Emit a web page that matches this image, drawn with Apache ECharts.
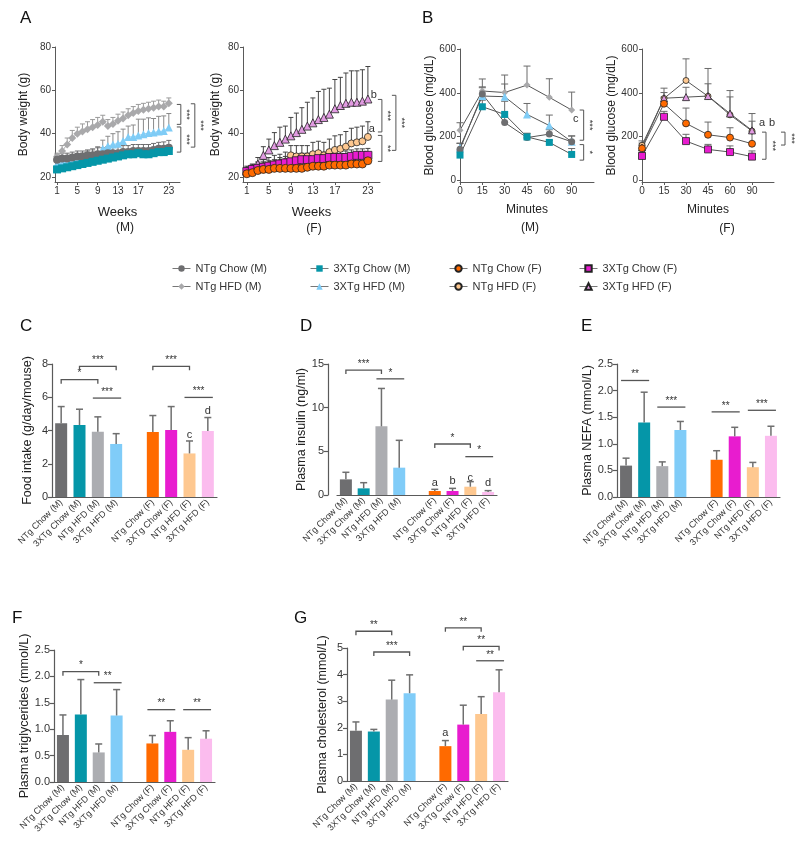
<!DOCTYPE html>
<html><head><meta charset="utf-8">
<script src="https://cdn.jsdelivr.net/npm/echarts@6/dist/echarts.min.js"></script>
<style>html,body{margin:0;padding:0;background:#fff}#c{width:800px;height:842px}</style>
</head><body><div id="c"></div>
<script>
// ---------- Panel A: body weight ----------
const weeks = [1,2,3,4,5,6,7,8,9,10,11,12,13,14,15,16,17,18,19,20,21,22,23];
const weekTicks = [1,5,9,13,17,23];
const bwNTgChowM   = [28,28.5,28.5,29,29.5,29.5,30,30,30.5,30.5,31,31,31,31.5,31.5,32,32,32,32,32.5,33,33,33.5];
const bwNTgChowMSd = [2.5,2.5,2.5,2.5,2.5,2.5,2.5,3,3,3,3,3,3,3,3,3,3,3,3,3,3,3.2,3.4];
const bw3XTgChowM   = [23.5,24,24.5,25,25.5,26,26.5,27,27.5,28,28.5,29,29.5,30,30.5,30.5,31,30.5,30.5,31,31.5,31.5,32];
const bw3XTgChowMSd = [1.4,1.5,1.5,1.6,1.5,1.6,1.6,1.7,1.6,1.7,1.7,1.6,1.7,1.8,1.7,1.8,1.7,1.8,1.8,1.7,1.8,1.8,1.9];
const bwNTgHfdM   = [29.5,32,35,38,40,41,42,43,44,45.5,43.5,44.5,46,47,48.5,49.5,50.5,51,51.5,52,52.5,52.5,54];
const bwNTgHfdMSd = [1.5,2.5,3,3.5,3,3.5,3.5,3.5,3.5,3,3,3,3,3,3,3,3,3,3,3,3,2.5,2.5];
const bw3XTgHfdM   = [26,26.5,27,27.5,28,28.5,29,29.5,30.5,33,34.3,35,35.4,36.6,38.5,38.5,39.2,39.7,40.3,40.5,41,41.2,42.8];
const bw3XTgHfdMSd = [2,2,2,2,2.5,2.5,3,3,3.5,4,4.5,5,5.5,5.5,5,5.5,7.5,7,7,6.5,7,7,6.5];
const bwNTgChowF   = [21.5,22,23,23.5,23.5,24,24,24,24,24,24,24.5,25,25,25,25.5,25.5,25.5,25.5,26,26,26,27.5];
const bwNTgChowFSd = [1.2,1.2,1.3,1.3,1.3,1.4,1.4,1.4,1.4,1.5,1.5,1.5,1.5,1.5,1.6,1.6,1.6,1.6,1.6,1.7,1.7,1.7,1.8];
const bw3XTgChowF   = [22.5,23.5,24,24.5,25,25.5,26,26.5,27,27.5,28,28,28,28.5,28.5,29,29,29,29,29.5,30,30,30];
const bw3XTgChowFSd = [2,2,2.5,2.5,2.5,2.5,3,3,3,3,3,3,3,3,3,3,3,3,3,3,3,3,3.2];
const bwNTgHfdF   = [22,23,24,25,25.5,26,26.5,27,30,29.5,29.5,29.5,30.5,31,30,31.5,32.5,33,34,35.5,36,36.5,38.5];
const bwNTgHfdFSd = [2,2.5,3,3,3.5,4,4,4.5,4.5,5,5,5,5.5,5.5,6,6,6.5,6.5,7,7,7,7,7];
const bw3XTgHfdF   = [23,24,26,30,32.5,34.5,36,37.5,39,40.5,42,43.5,45,46.5,47.5,49,51.5,53,54,54.5,54.5,55,56];
const bw3XTgHfdFSd = [2,2,3,4,5,6,7,6,8.5,9,10,11,11.5,13,13,12,13.5,13,14,14.5,14.5,14.5,15];
const bwTicks = [20,40,60,80];
// significance (y1, y2, label, level)
const sigBwM = [[53.5,44.3,'***',0],[43.1,31.5,'***',0],[53.8,33.8,'***',1]];
const sigBwF = [[55.8,40.8,'***',0],[39.2,27.2,'**',0],[57.7,32.3,'***',1]];
const letBwF = [[58,'b'],[42.3,'a']];

// ---------- Panel B: glucose tolerance ----------
const minutes = ['0','15','30','45','60','90'];
const gluTicks = [0,200,400,600];
const gluNTgChowM   = [142,394,264,195,211,176];
const gluNTgChowMSd = [26,33,25,20,20,26];
const glu3XTgChowM   = [115,336,301,198,173,118];
const glu3XTgChowMSd = [15,30,60,15,10,27];
const gluNTgHfdM   = [229,408,401,435,379,321];
const gluNTgHfdMSd = [34,55,80,87,85,82];
const glu3XTgHfdM   = [150,385,382,301,250,176];
const glu3XTgHfdMSd = [20,38,58,50,48,27];
const gluNTgChowF   = [146,350,260,208,195,167];
const gluNTgChowFSd = [15,30,70,58,45,53];
const glu3XTgChowF   = [111,290,179,141,129,108];
const glu3XTgChowFSd = [15,25,31,23,28,26];
const gluNTgHfdF   = [160,374,456,384,299,225];
const gluNTgHfdFSd = [20,47,99,127,111,80];
const glu3XTgHfdF   = [150,375,380,385,305,228];
const glu3XTgHfdFSd = [20,26,45,56,76,42];
const sigGluM = [[321,183,'***',0],[163,92,'*',0]];
const letGluM = [[282,'c']];
const sigGluF = [[220,96,'***',0],[220,161,'***',1]];
const letGluF = [[260,'a'],[260,'b']];

// ---------- Bar panels C-G ----------
const groups = ['NTg Chow (M)','3XTg Chow (M)','NTg HFD (M)','3XTg HFD (M)','','NTg Chow (F)','3XTg Chow (F)','NTg HFD (F)','3XTg HFD (F)'];
const foodMean = [4.43,4.33,3.93,3.19,null,3.91,4.03,2.62,3.97];
const foodSd   = [1.01,0.95,0.89,0.62,null,0.99,1.41,0.75,0.81];
const insMean = [1.79,0.76,7.86,3.13,null,0.46,0.46,0.95,0.34];
const insSd   = [0.81,0.65,4.34,3.13,null,0.19,0.30,0.58,0.16];
const nefaMean = [0.59,1.40,0.58,1.26,null,0.70,1.14,0.56,1.15];
const nefaSd   = [0.14,0.57,0.08,0.16,null,0.17,0.17,0.09,0.18];
const tgMean = [0.89,1.28,0.56,1.26,null,0.73,0.95,0.61,0.82];
const tgSd   = [0.38,0.66,0.16,0.49,null,0.15,0.21,0.23,0.15];
const cholMean = [1.89,1.86,3.06,3.30,null,1.31,2.12,2.52,3.34];
const cholSd   = [0.33,0.08,0.73,0.69,null,0.21,0.73,0.65,0.84];
// significance: x1, x2, y, label, bracket(1)/line(0)
const sigFood = [[0,2,7.06,'*',1],[1,3,7.86,'***',1],[2,3,5.95,'***',0],[5,7,7.86,'***',1],[7,8,5.99,'***',0]];
const letFood = [[7,3.73,'c'],[8,5.18,'d']];
const sigIns = [[0,2,14.3,'***',1],[2,3,13.3,'*',0],[5,7,5.84,'*',1],[7,8,4.39,'*',0]];
const letIns = [[5,1.34,'a'],[6,1.64,'b'],[7,2.0,'c'],[8,1.34,'d']];
const sigNefa = [[0,1,2.19,'**',0],[2,3,1.69,'***',0],[5,6,1.60,'**',0],[7,8,1.63,'***',0]];
const sigTg = [[0,2,2.09,'*',1],[2,3,1.88,'**',0],[5,6,1.37,'**',0],[7,8,1.37,'**',0]];
const sigChol = [[0,2,5.63,'**',1],[1,3,4.85,'***',1],[5,7,5.76,'**',1],[6,8,5.06,'**',1],[7,8,4.52,'**',0]];
const letChol = [[5,1.79,'a']];

// ---------- styles ----------
const FONT = 'Arial, "Liberation Sans", Helvetica, sans-serif';
const barColors = ['#6e6e70','#0596a8','#acadb1','#80ccf8',null,'#ff6a00','#e81ccf','#fec890','#fbbcee'];
const AX = '#5a5a5a', TXT = '#222';

const chart = echarts.init(document.getElementById('c'), null, {renderer:'canvas'});

function errItem(color, cap, lw) {
  return function (params, api) {
    const x = api.value(0), m = api.value(1), s = api.value(2);
    if (isNaN(m) || isNaN(s)) return;
    const a = api.coord([x, m]), b = api.coord([x, m + s]);
    const st = {stroke: color, lineWidth: lw};
    return {type:'group', children:[
      {type:'line', shape:{x1:a[0], y1:a[1], x2:b[0], y2:b[1]}, style: st},
      {type:'line', shape:{x1:b[0]-cap, y1:b[1], x2:b[0]+cap, y2:b[1]}, style: st}
    ]};
  };
}
function textStyle(t, size, extra) {
  return Object.assign({text:t, fill:TXT, fontSize:size, fontFamily:FONT, align:'center', verticalAlign:'middle', textAlign:'center', textVerticalAlign:'middle'}, extra||{});
}
function vSigItem(list, xLast, offs, color) {
  return function (params, api) {
    const r = list[params.dataIndex];
    const a = api.coord([xLast, r[0]]), b = api.coord([xLast, r[1]]);
    const X = a[0] + offs[r[3]];
    return {type:'group', children:[
      {type:'polyline', shape:{points:[[X-4,a[1]],[X,a[1]],[X,b[1]],[X-4,b[1]]]}, style:{stroke:color, lineWidth:1, fill:'none'}},
      {type:'text', x:X+6, y:(a[1]+b[1])/2, rotation:-Math.PI/2, style:textStyle(r[2], 9, {fill:'#333'})}
    ]};
  };
}
function letItem(list, xLast, offs) {
  return function (params, api) {
    const r = list[params.dataIndex];
    const p = api.coord([xLast, r[0]]);
    return {type:'text', x:p[0]+offs[params.dataIndex], y:p[1], style:textStyle(r[1], 11, {fill:'#333'})};
  };
}
function hSigItem(list, color) {
  return function (params, api) {
    const r = list[params.dataIndex];
    const p1 = api.coord([r[0], r[2]]), p2 = api.coord([r[1], r[2]]);
    const pts = r[4] ? [[p1[0],p1[1]+4],[p1[0],p1[1]],[p2[0],p2[1]],[p2[0],p2[1]+4]]
                     : [[p1[0]-5,p1[1]],[p2[0]+5,p2[1]]];
    return {type:'group', children:[
      {type:'polyline', shape:{points:pts}, style:{stroke:color, lineWidth:1.3, fill:'none'}},
      {type:'text', x:(p1[0]+p2[0])/2, y:p1[1]-1, style:textStyle(r[3], 10, {verticalAlign:'bottom', textVerticalAlign:'bottom', fill:'#333'})}
    ]};
  };
}
function barLetItem(list) {
  return function (params, api) {
    const r = list[params.dataIndex];
    const p = api.coord([r[0], r[1]]);
    return {type:'text', x:p[0], y:p[1], style:textStyle(r[2], 11, {fill:'#333'})};
  };
}

const series = [];
function custom(k, data, render, z) {
  series.push({type:'custom', xAxisIndex:k, yAxisIndex:k, data:data, renderItem:render, clip:false, silent:true, z:z||2, animation:false});
}
function lineA(k, name, ys, sd, color, symbol, size, border, errColor) {
  custom(k, weeks.map((w,i)=>[w, ys[i], sd[i]]), errItem(errColor, 2.5, 1), 2);
  series.push({type:'line', name:name, xAxisIndex:k, yAxisIndex:k, data:weeks.map((w,i)=>[w, ys[i]]),
    symbol:symbol, symbolSize:size, showSymbol:true, silent:true, z:3,
    itemStyle:{color:color, borderColor:border||color, borderWidth:border?0.8:0, opacity:1},
    lineStyle:{color:color, width:1}, emphasis:{disabled:true}, animation:false});
}
function lineB(k, name, ys, sd, color, symbol, size, border) {
  custom(k, ys.map((v,i)=>[i, v, sd[i]]), errItem('#6a6a6a', 3.5, 1), 2);
  series.push({type:'line', name:name, xAxisIndex:k, yAxisIndex:k, data:ys,
    symbol:symbol, symbolSize:size, silent:true, z:3,
    itemStyle:{color:color, borderColor:border||color, borderWidth:border?0.8:0, opacity:1},
    lineStyle:{color:'#555', width:1}, emphasis:{disabled:true}, animation:false});
}
function bars(k, mean, sd, sig, lets) {
  series.push({type:'bar', xAxisIndex:k, yAxisIndex:k, barWidth:12, silent:true, animation:false,
    data: mean.map((v,i)=> v==null ? '-' : {value:v, itemStyle:{color:barColors[i]}})});
  const ed = [];
  mean.forEach((v,i)=>{ if (v!=null) ed.push([i, v, sd[i]]); });
  custom(k, ed, errItem('#6f6f6f', 3.5, 1.5), 3);
  custom(k, sig.map(r=>[r[0], r[2]]), hSigItem(sig, '#555'), 4);
  if (lets) custom(k, lets.map(r=>[r[0], r[1]]), barLetItem(lets), 4);
}

// A(M)
lineA(0,'NTg HFD (M)', bwNTgHfdM, bwNTgHfdMSd, '#a9a9ab','diamond',8,null,'#9a9a9a');
lineA(0,'3XTg HFD (M)', bw3XTgHfdM, bw3XTgHfdMSd, '#7fccf6','triangle',8,null,'#8a8a8a');
lineA(0,'NTg Chow (M)', bwNTgChowM, bwNTgChowMSd, '#6e6e70','circle',8,null,'#6e6e70');
lineA(0,'3XTg Chow (M)', bw3XTgChowM, bw3XTgChowMSd, '#0596a8','rect',8,null,'#0596a8');
custom(0, sigBwM.map(r=>[23, r[0]]), vSigItem(sigBwM, 23, [12,26], '#555'), 4);
// A(F)
lineA(1,'3XTg HFD (F)', bw3XTgHfdF, bw3XTgHfdFSd, '#e29be2','triangle',8,'#222','#444');
lineA(1,'NTg HFD (F)', bwNTgHfdF, bwNTgHfdFSd, '#fec890','circle',7,'#222','#444');
lineA(1,'3XTg Chow (F)', bw3XTgChowF, bw3XTgChowFSd, '#e81ccf','rect',8,'#222','#444');
lineA(1,'NTg Chow (F)', bwNTgChowF, bwNTgChowFSd, '#ff6a00','circle',8,'#222','#444');
custom(1, sigBwF.map(r=>[23, r[0]]), vSigItem(sigBwF, 23, [14,28], '#555'), 4);
custom(1, letBwF.map(r=>[23, r[0]]), letItem(letBwF, 23, [6,4]), 4);
// B(M)
lineB(2,'NTg HFD (M)', gluNTgHfdM, gluNTgHfdMSd, '#a9a9ab','diamond',7);
lineB(2,'3XTg HFD (M)', glu3XTgHfdM, glu3XTgHfdMSd, '#7fccf6','triangle',8);
lineB(2,'NTg Chow (M)', gluNTgChowM, gluNTgChowMSd, '#6e6e70','circle',7);
lineB(2,'3XTg Chow (M)', glu3XTgChowM, glu3XTgChowMSd, '#0596a8','rect',7);
custom(2, sigGluM.map(r=>[5, r[0]]), vSigItem(sigGluM, 5, [12], '#555'), 4);
custom(2, letGluM.map(r=>[5, r[0]]), letItem(letGluM, 5, [4]), 4);
// B(F)
lineB(3,'NTg HFD (F)', gluNTgHfdF, gluNTgHfdFSd, '#fec890','circle',6,'#222');
lineB(3,'3XTg HFD (F)', glu3XTgHfdF, glu3XTgHfdFSd, '#e29be2','triangle',7,'#222');
lineB(3,'NTg Chow (F)', gluNTgChowF, gluNTgChowFSd, '#ff6a00','circle',7,'#222');
lineB(3,'3XTg Chow (F)', glu3XTgChowF, glu3XTgChowFSd, '#e81ccf','rect',7,'#222');
custom(3, sigGluF.map(r=>[5, r[0]]), vSigItem(sigGluF, 5, [14,33], '#555'), 4);
custom(3, letGluF.map(r=>[5, r[0]]), letItem(letGluF, 5, [10,20]), 4);
// bars
bars(4, foodMean, foodSd, sigFood, letFood);
bars(5, insMean, insSd, sigIns, letIns);
bars(6, nefaMean, nefaSd, sigNefa, null);
bars(7, tgMean, tgSd, sigTg, null);
bars(8, cholMean, cholSd, sigChol, letChol);

const grids = [
  {left:55, top:47, width:125, height:135},
  {left:243, top:47, width:137, height:135},
  {left:460, top:49, width:134, height:133},
  {left:642, top:49, width:132, height:133},
  {left:52, top:364, width:165, height:133},
  {left:337, top:364, width:160, height:131},
  {left:617, top:364, width:163, height:133},
  {left:54, top:650, width:161, height:132},
  {left:347, top:648, width:161, height:133}
];

const axLine = {show:true, onZero:false, lineStyle:{color:AX, width:1}};
const axTick = {show:true, length:3, lineStyle:{color:AX, width:1}};
function xWeeks(k, min) {
  return {gridIndex:k, type:'value', min:min, max:25.2, axisLine:axLine, splitLine:{show:false},
    axisTick:Object.assign({customValues:weekTicks}, axTick),
    axisLabel:{customValues:weekTicks, color:'#333', fontSize:10, fontFamily:FONT, margin:4},
    name:'Weeks', nameLocation:'middle', nameGap:24, nameTextStyle:{fontSize:13, color:TXT, fontFamily:FONT}};
}
function xMin(k) {
  return {gridIndex:k, type:'category', data:minutes.concat(['']), boundaryGap:false, axisLine:axLine,
    axisTick:Object.assign({interval:(i)=> i < minutes.length}, axTick),
    axisLabel:{interval:0, color:'#333', fontSize:10, fontFamily:FONT, margin:4},
    name:'Minutes', nameLocation:'middle', nameGap:22, nameTextStyle:{fontSize:12, color:TXT, fontFamily:FONT}};
}
function xBar(k) {
  return {gridIndex:k, type:'category', data:groups, axisLine:{show:true, lineStyle:{color:AX, width:1.2}},
    axisTick:{show:false}, axisLabel:{interval:0, rotate:45, color:'#333', fontSize:9, fontFamily:FONT, margin:4}};
}
function yCustom(k, min, max, ticks, name, gap) {
  return {gridIndex:k, type:'value', min:min, max:max, axisLine:axLine, splitLine:{show:false},
    axisTick:Object.assign({customValues:ticks}, axTick),
    axisLabel:{customValues:ticks, color:'#333', fontSize:10, fontFamily:FONT, margin:4},
    name:name, nameLocation:'middle', nameGap:gap, nameTextStyle:{fontSize:12, color:TXT, fontFamily:FONT}};
}
function yBar(k, max, interval, name, gap, fmt, offset) {
  return {gridIndex:k, type:'value', min:0, max:max, interval:interval, offset:offset||0,
    axisLine:{show:true, lineStyle:{color:AX, width:1.2}}, axisTick:{show:true, length:4, lineStyle:{color:AX, width:1.2}},
    splitLine:{show:false},
    axisLabel:{color:'#333', fontSize:11, fontFamily:FONT, margin:4, formatter: fmt || (v=>String(v))},
    name:name, nameLocation:'middle', nameGap:gap, nameTextStyle:{fontSize:12.5, color:TXT, fontFamily:FONT}};
}

const legendCols = [['NTg Chow (M)','NTg HFD (M)'],['3XTg Chow (M)','3XTg HFD (M)'],['NTg Chow (F)','NTg HFD (F)'],['3XTg Chow (F)','3XTg HFD (F)']];
const legendLeft = [172, 310, 449, 579];

function label(t, x, y, size) {
  return {type:'text', x:x, y:y, style:textStyle(t, size)};
}

chart.setOption({
  animation:false,
  textStyle:{fontFamily:FONT},
  grid: grids,
  xAxis: [xWeeks(0,0.6), xWeeks(1,0.3), xMin(2), xMin(3), xBar(4), xBar(5), xBar(6), xBar(7), xBar(8)],
  yAxis: [
    yCustom(0, 17.7, 80, bwTicks, 'Body weight (g)', 25),
    yCustom(1, 17.7, 80, bwTicks, 'Body weight (g)', 21),
    yCustom(2, -8, 600, gluTicks, 'Blood glucose (mg/dL)', 19),
    yCustom(3, -8, 600, gluTicks, 'Blood glucose (mg/dL)', 19),
    yBar(4, 8, 2, 'Food intake (g/day/mouse)', 18),
    yBar(5, 15, 5, 'Plasma insulin (ng/ml)', 13, null, 9),
    yBar(6, 2.5, 0.5, 'Plasma NEFA (mmol/L)', 20, v=>v.toFixed(1)),
    yBar(7, 2.5, 0.5, 'Plasma triglycerides (mmol/L)', 20, v=>v.toFixed(1)),
    yBar(8, 5, 1, 'Plasma cholesterol (mmol/L)', 18)
  ],
  legend: legendCols.map((d,i)=>({orient:'vertical', left:legendLeft[i], top:263, data:d, selectedMode:false,
    itemWidth:18, itemHeight:8, itemGap:7, padding:0,
    lineStyle:{color:'#777', width:1},
    textStyle:{fontSize:11, color:'#333', fontFamily:FONT}})),
  graphic: [
    {type:'text', left:20, top:10, style:{text:'A', fontSize:17, fill:'#111', fontFamily:FONT}},
    {type:'text', left:422, top:10, style:{text:'B', fontSize:17, fill:'#111', fontFamily:FONT}},
    {type:'text', left:20, top:318, style:{text:'C', fontSize:17, fill:'#111', fontFamily:FONT}},
    {type:'text', left:300, top:318, style:{text:'D', fontSize:17, fill:'#111', fontFamily:FONT}},
    {type:'text', left:581, top:318, style:{text:'E', fontSize:17, fill:'#111', fontFamily:FONT}},
    {type:'text', left:12, top:610, style:{text:'F', fontSize:17, fill:'#111', fontFamily:FONT}},
    {type:'text', left:294, top:610, style:{text:'G', fontSize:17, fill:'#111', fontFamily:FONT}},
    label('(M)', 125, 228, 12),
    label('(F)', 314, 229, 12),
    label('(M)', 530, 228, 12),
    label('(F)', 727, 229, 12)
  ],
  series: series
});
</script></body></html>
